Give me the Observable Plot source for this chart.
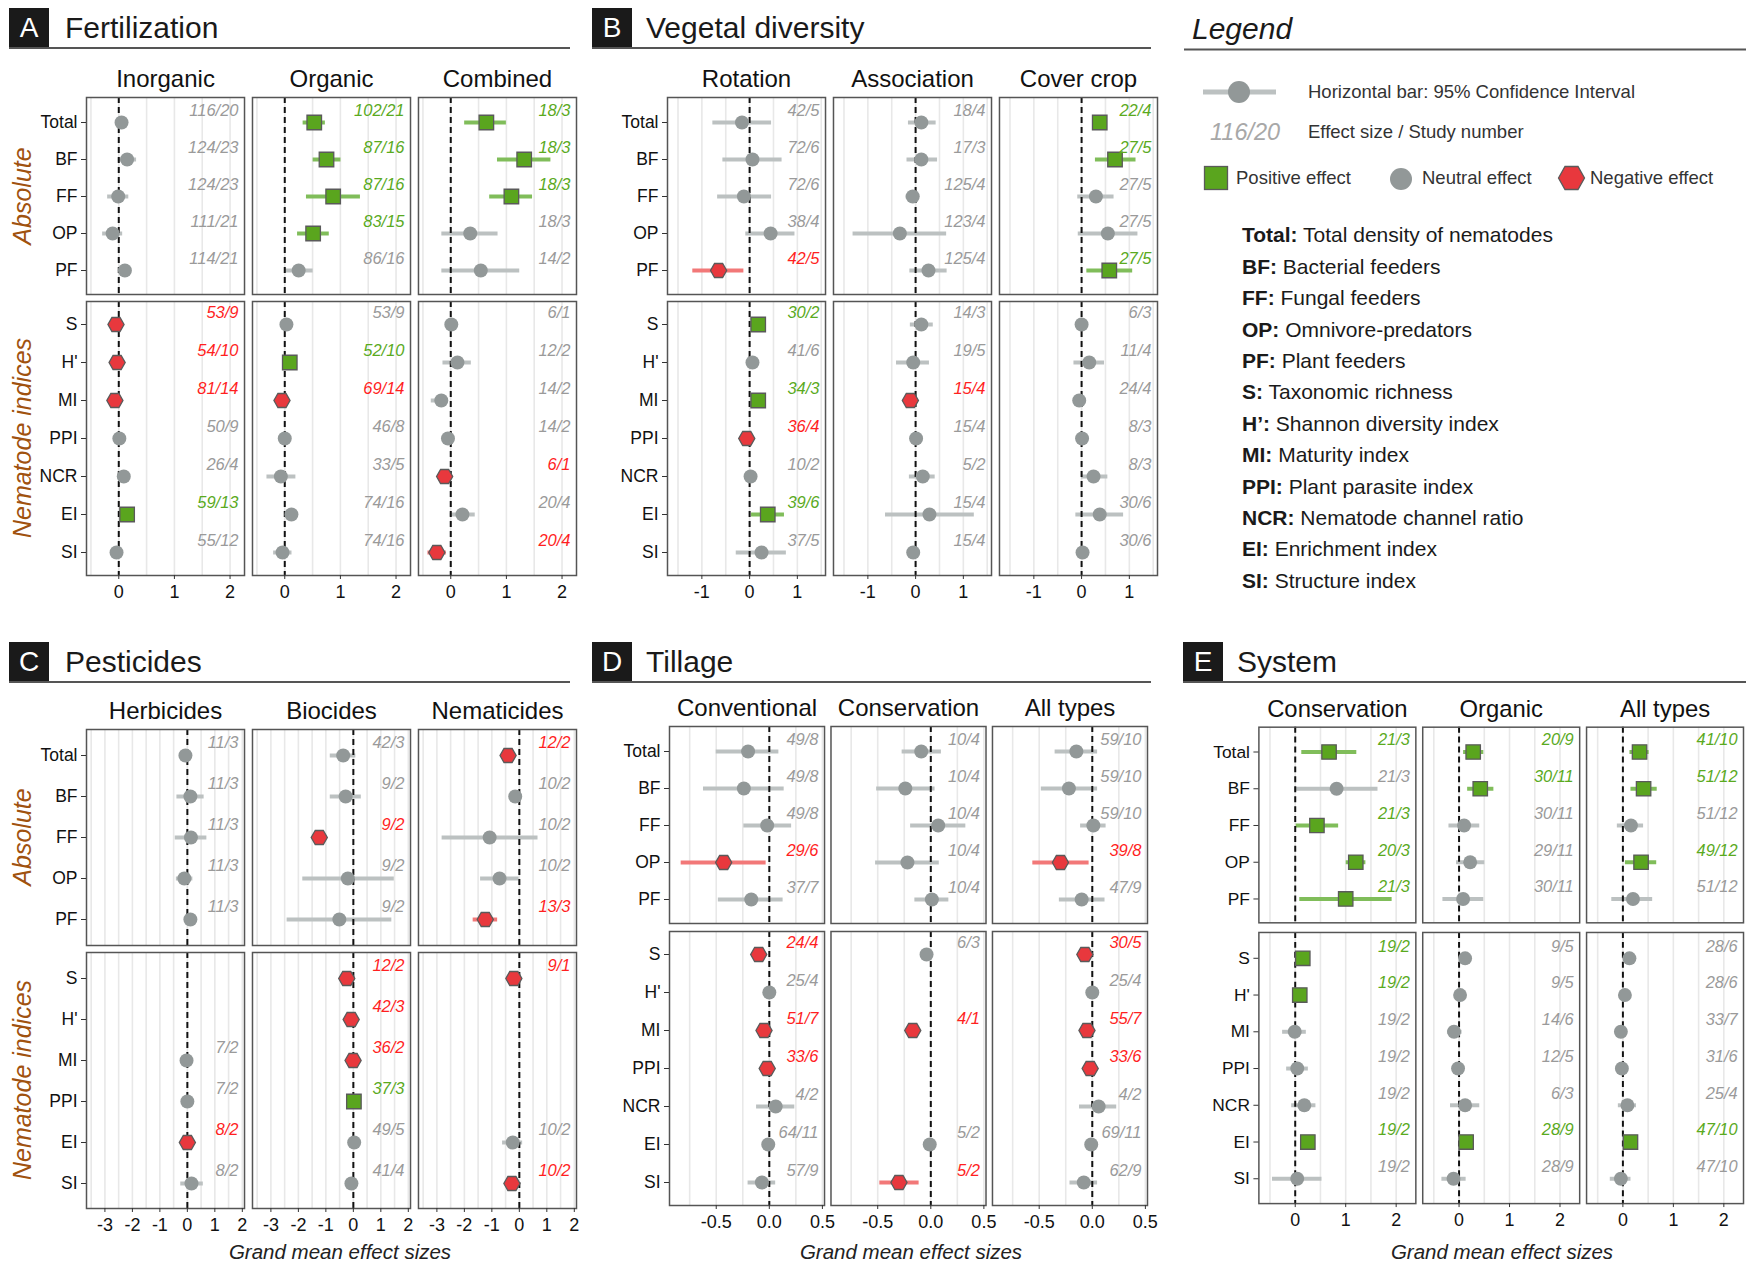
<!DOCTYPE html>
<html><head><meta charset="utf-8">
<script src="https://cdn.jsdelivr.net/npm/d3@7"></script>
<script src="https://cdn.jsdelivr.net/npm/@observablehq/plot@0.6"></script>
<style>
html,body{margin:0;padding:0;background:#fff;overflow:hidden;}
body{width:1746px;height:1263px;position:relative;font-family:"Liberation Sans",Arial,sans-serif;}
.box{position:absolute;width:40px;height:40px;background:#1a1a1a;color:#fff;font-size:28px;line-height:40px;text-align:center;}
.title{position:absolute;font-size:30px;color:#1a1a1a;line-height:30px;white-space:nowrap;}
.uline{position:absolute;height:2px;background:#555;}
.grp{position:absolute;font-style:italic;font-size:25px;color:#a0520f;white-space:nowrap;transform:translate(-50%,-50%) rotate(-90deg);}
.xlab{position:absolute;font-style:italic;font-size:20.5px;color:#222;transform:translate(-50%,-50%);white-space:nowrap;}
.pl{position:absolute;}
</style></head><body>
<script>
// ---------------- DATA ----------------
const topVars = ["Total", "BF", "FF", "OP", "PF"];
const idxVars = ["S", "H'", "MI", "PPI", "NCR", "EI", "SI"];
const idxVarsPest = ["S", "H'", "MI", "PPI", "EI", "SI"];

// [variable, estimate, CI low, CI high, "effect sizes/studies", effect (1 positive, 0 neutral, -1 negative)]
const fertInorganic = [
  ["Total", 0.05, -0.03, 0.12, "116/20", 0], ["BF", 0.15, -0.01, 0.32, "124/23", 0],
  ["FF", -0.01, -0.2, 0.18, "124/23", 0], ["OP", -0.11, -0.29, 0.07, "111/21", 0],
  ["PF", 0.11, 0.02, 0.2, "114/21", 0],
  ["S", -0.05, -0.12, 0.02, "53/9", -1], ["H'", -0.03, -0.1, 0.04, "54/10", -1],
  ["MI", -0.07, -0.14, 0.0, "81/14", -1], ["PPI", 0.01, -0.05, 0.07, "50/9", 0],
  ["NCR", 0.09, 0.0, 0.18, "26/4", 0], ["EI", 0.15, 0.08, 0.22, "59/13", 1],
  ["SI", -0.04, -0.12, 0.04, "55/12", 0]
];
const fertOrganic = [
  ["Total", 0.53, 0.33, 0.73, "102/21", 1], ["BF", 0.75, 0.51, 1.01, "87/16", 1],
  ["FF", 0.87, 0.39, 1.36, "87/16", 1], ["OP", 0.51, 0.23, 0.8, "83/15", 1],
  ["PF", 0.25, 0.01, 0.51, "86/16", 0],
  ["S", 0.03, -0.04, 0.1, "53/9", 0], ["H'", 0.09, 0.02, 0.16, "52/10", 1],
  ["MI", -0.05, -0.12, 0.02, "69/14", -1], ["PPI", 0.0, -0.07, 0.07, "46/8", 0],
  ["NCR", -0.07, -0.32, 0.2, "33/5", 0], ["EI", 0.12, 0.04, 0.2, "74/16", 0],
  ["SI", -0.04, -0.2, 0.13, "74/16", 0]
];
const fertCombined = [
  ["Total", 0.64, 0.25, 1.0, "18/3", 1], ["BF", 1.32, 0.84, 1.8, "18/3", 1],
  ["FF", 1.09, 0.7, 1.47, "18/3", 1], ["OP", 0.35, -0.16, 0.85, "18/3", 0],
  ["PF", 0.54, -0.16, 1.24, "14/2", 0],
  ["S", 0.01, -0.06, 0.08, "6/1", 0], ["H'", 0.12, -0.14, 0.37, "12/2", 0],
  ["MI", -0.17, -0.35, -0.05, "14/2", 0], ["PPI", -0.05, -0.12, 0.02, "14/2", 0],
  ["NCR", -0.11, -0.18, -0.04, "6/1", -1], ["EI", 0.21, -0.01, 0.44, "20/4", 0],
  ["SI", -0.25, -0.41, -0.08, "20/4", -1]
];
const vegRotation = [
  ["Total", -0.16, -0.77, 0.46, "42/5", 0], ["BF", 0.06, -0.56, 0.68, "72/6", 0],
  ["FF", -0.12, -0.67, 0.46, "72/6", 0], ["OP", 0.44, -0.08, 0.95, "38/4", 0],
  ["PF", -0.65, -1.19, -0.12, "42/5", -1],
  ["S", 0.18, 0.1, 0.26, "30/2", 1], ["H'", 0.06, -0.02, 0.14, "41/6", 0],
  ["MI", 0.18, 0.1, 0.26, "34/3", 1], ["PPI", -0.06, -0.14, 0.02, "36/4", -1],
  ["NCR", 0.02, -0.06, 0.1, "10/2", 0], ["EI", 0.38, 0.04, 0.73, "39/6", 1],
  ["SI", 0.25, -0.28, 0.77, "37/5", 0]
];
const vegAssociation = [
  ["Total", 0.12, -0.15, 0.43, "18/4", 0], ["BF", 0.12, -0.18, 0.46, "17/3", 0],
  ["FF", -0.06, -0.2, 0.08, "125/4", 0], ["OP", -0.33, -1.31, 0.65, "123/4", 0],
  ["PF", 0.27, -0.12, 0.66, "125/4", 0],
  ["S", 0.12, -0.11, 0.37, "14/3", 0], ["H'", -0.05, -0.4, 0.29, "19/5", 0],
  ["MI", -0.11, -0.19, -0.03, "15/4", -1], ["PPI", 0.01, -0.07, 0.09, "15/4", 0],
  ["NCR", 0.15, -0.13, 0.41, "5/2", 0], ["EI", 0.29, -0.63, 1.23, "15/4", 0],
  ["SI", -0.05, -0.13, 0.03, "15/4", 0]
];
const vegCover = [
  ["Total", 0.38, 0.3, 0.46, "22/4", 1], ["BF", 0.7, 0.29, 1.14, "27/5", 1],
  ["FF", 0.3, -0.08, 0.68, "27/5", 0], ["OP", 0.55, -0.07, 1.18, "27/5", 0],
  ["PF", 0.58, 0.11, 1.07, "27/5", 1],
  ["S", 0.0, -0.08, 0.08, "6/3", 0], ["H'", 0.16, -0.16, 0.48, "11/4", 0],
  ["MI", -0.05, -0.13, 0.03, "24/4", 0], ["PPI", 0.01, -0.07, 0.09, "8/3", 0],
  ["NCR", 0.25, 0.0, 0.55, "8/3", 0], ["EI", 0.38, -0.12, 0.88, "30/6", 0],
  ["SI", 0.02, -0.06, 0.1, "30/6", 0]
];
const pestHerbicides = [
  ["Total", -0.07, -0.27, 0.13, "11/3", 0], ["BF", 0.11, -0.38, 0.61, "11/3", 0],
  ["FF", 0.13, -0.44, 0.71, "11/3", 0], ["OP", -0.11, -0.4, 0.2, "11/3", 0],
  ["PF", 0.11, -0.09, 0.31, "11/3", 0],
  ["MI", -0.03, -0.23, 0.17, "7/2", 0], ["PPI", 0.0, -0.2, 0.2, "7/2", 0],
  ["EI", 0.0, -0.2, 0.2, "8/2", -1], ["SI", 0.15, -0.24, 0.58, "8/2", 0]
];
const pestBiocides = [
  ["Total", -0.37, -0.84, 0.09, "42/3", 0], ["BF", -0.28, -0.84, 0.29, "9/2", 0],
  ["FF", -1.24, -1.44, -1.04, "9/2", -1], ["OP", -0.2, -1.84, 1.49, "9/2", 0],
  ["PF", -0.51, -2.41, 1.4, "9/2", 0],
  ["S", -0.24, -0.44, -0.04, "12/2", -1], ["H'", -0.08, -0.28, 0.12, "42/3", -1],
  ["MI", -0.01, -0.21, 0.19, "36/2", -1], ["PPI", 0.02, -0.18, 0.22, "37/3", 1],
  ["EI", 0.03, -0.17, 0.23, "49/5", 0], ["SI", -0.07, -0.27, 0.13, "41/4", 0]
];
const pestNematicides = [
  ["Total", -0.41, -0.61, -0.21, "12/2", -1], ["BF", -0.15, -0.3, 0.0, "10/2", 0],
  ["FF", -1.08, -2.81, 0.68, "10/2", 0], ["OP", -0.72, -1.41, -0.01, "10/2", 0],
  ["PF", -1.24, -1.68, -0.79, "13/3", -1],
  ["S", -0.2, -0.4, 0.0, "9/1", -1], ["EI", -0.24, -0.61, 0.12, "10/2", 0],
  ["SI", -0.27, -0.47, -0.07, "10/2", -1]
];
const tillConventional = [
  ["Total", -0.2, -0.5, 0.09, "49/8", 0], ["BF", -0.24, -0.62, 0.14, "49/8", 0],
  ["FF", -0.02, -0.24, 0.21, "49/8", 0], ["OP", -0.43, -0.83, -0.03, "29/6", -1],
  ["PF", -0.17, -0.48, 0.13, "37/7", 0],
  ["S", -0.1, -0.15, -0.05, "24/4", -1], ["H'", 0.0, -0.05, 0.05, "25/4", 0],
  ["MI", -0.05, -0.1, 0.0, "51/7", -1], ["PPI", -0.02, -0.07, 0.03, "33/6", -1],
  ["NCR", 0.06, -0.12, 0.24, "4/2", 0], ["EI", -0.01, -0.06, 0.04, "64/11", 0],
  ["SI", -0.07, -0.2, 0.06, "57/9", 0]
];
const tillConservation = [
  ["Total", -0.09, -0.27, 0.1, "10/4", 0], ["BF", -0.24, -0.51, 0.04, "10/4", 0],
  ["FF", 0.07, -0.19, 0.33, "10/4", 0], ["OP", -0.22, -0.52, 0.08, "10/4", 0],
  ["PF", 0.01, -0.15, 0.17, "10/4", 0],
  ["S", -0.04, -0.09, 0.01, "6/3", 0], ["MI", -0.17, -0.22, -0.12, "4/1", -1],
  ["EI", -0.01, -0.06, 0.04, "5/2", 0], ["SI", -0.3, -0.48, -0.11, "5/2", -1]
];
const tillAll = [
  ["Total", -0.15, -0.35, 0.05, "59/10", 0], ["BF", -0.22, -0.48, 0.05, "59/10", 0],
  ["FF", 0.01, -0.11, 0.13, "59/10", 0], ["OP", -0.3, -0.56, -0.03, "39/8", -1],
  ["PF", -0.1, -0.31, 0.12, "47/9", 0],
  ["S", -0.07, -0.12, -0.02, "30/5", -1], ["H'", 0.0, -0.05, 0.05, "25/4", 0],
  ["MI", -0.05, -0.1, 0.0, "55/7", -1], ["PPI", -0.02, -0.07, 0.03, "33/6", -1],
  ["NCR", 0.06, -0.12, 0.23, "4/2", 0], ["EI", -0.01, -0.06, 0.04, "69/11", 0],
  ["SI", -0.08, -0.21, 0.05, "62/9", 0]
];
const sysConservation = [
  ["Total", 0.67, 0.13, 1.22, "21/3", 1], ["BF", 0.82, -0.01, 1.64, "21/3", 0],
  ["FF", 0.43, 0.02, 0.86, "21/3", 1], ["OP", 1.2, 1.01, 1.4, "20/3", 1],
  ["PF", 1.0, 0.09, 1.92, "21/3", 1],
  ["S", 0.15, 0.07, 0.23, "19/2", 1], ["H'", 0.09, 0.01, 0.17, "19/2", 1],
  ["MI", -0.01, -0.25, 0.22, "19/2", 0], ["PPI", 0.04, -0.17, 0.26, "19/2", 0],
  ["NCR", 0.18, -0.07, 0.41, "19/2", 0], ["EI", 0.25, 0.17, 0.33, "19/2", 1],
  ["SI", 0.04, -0.45, 0.53, "19/2", 0]
];
const sysOrganic = [
  ["Total", 0.28, 0.09, 0.49, "20/9", 1], ["BF", 0.42, 0.17, 0.69, "30/11", 1],
  ["FF", 0.1, -0.2, 0.41, "30/11", 0], ["OP", 0.22, -0.05, 0.51, "29/11", 0],
  ["PF", 0.08, -0.32, 0.49, "30/11", 0],
  ["S", 0.12, 0.04, 0.2, "9/5", 0], ["H'", 0.02, -0.06, 0.1, "9/5", 0],
  ["MI", -0.1, -0.23, 0.06, "14/6", 0], ["PPI", -0.02, -0.1, 0.06, "12/5", 0],
  ["NCR", 0.12, -0.17, 0.41, "6/3", 0], ["EI", 0.14, 0.06, 0.22, "28/9", 1],
  ["SI", -0.11, -0.34, 0.14, "28/9", 0]
];
const sysAll = [
  ["Total", 0.33, 0.14, 0.52, "41/10", 1], ["BF", 0.41, 0.16, 0.68, "51/12", 1],
  ["FF", 0.16, -0.11, 0.41, "51/12", 0], ["OP", 0.36, 0.05, 0.67, "49/12", 1],
  ["PF", 0.2, -0.22, 0.59, "51/12", 0],
  ["S", 0.13, 0.05, 0.21, "28/6", 0], ["H'", 0.04, -0.04, 0.12, "28/6", 0],
  ["MI", -0.04, -0.12, 0.04, "33/7", 0], ["PPI", -0.02, -0.1, 0.06, "31/6", 0],
  ["NCR", 0.09, -0.09, 0.27, "25/4", 0], ["EI", 0.15, 0.07, 0.23, "47/10", 1],
  ["SI", -0.04, -0.25, 0.16, "47/10", 0]
];

// ---------------- STYLE / LAYOUT ----------------
const barColor = {"1": "#80bd5a", "0": "#bcc1c1", "-1": "#f27878"};
const ptColor = {"1": "#5aa51e", "0": "#929898", "-1": "#e8383d"};
const labColor = {"1": "#5aaa1e", "0": "#9a9a9a", "-1": "#ff1f1f"};
const FONT = '"Liberation Sans", Arial, sans-serif';

const panels = [
  {letter: "A", title: "Fertilization", cols: ["Inorganic", "Organic", "Combined"],
   sets: [fertInorganic, fertOrganic, fertCombined], idx: idxVars,
   xDomain: [-0.58, 2.26], xTicks: [0, 1, 2], grid: [-0.5, 0, 0.5, 1, 1.5, 2], fmt: d => String(d),
   left: 0, width: 580, mL: 86, mR: 4, pad: 0.048, topFrame: [97, 294], botFrame: [301, 575],
   hdr: {boxX: 9, boxY: 8, titleX: 65, lineEnd: 570}, groups: true, xlab: null},
  {letter: "B", title: "Vegetal diversity", cols: ["Rotation", "Association", "Cover crop"],
   sets: [vegRotation, vegAssociation, vegCover], idx: idxVars,
   xDomain: [-1.72, 1.59], xTicks: [-1, 0, 1], grid: [-1.5, -1, -0.5, 0, 0.5, 1, 1.5], fmt: d => String(d),
   left: 585, width: 580, mL: 82, mR: 8, pad: 0.048, topFrame: [97, 294], botFrame: [301, 575],
   hdr: {boxX: 592, boxY: 8, titleX: 646, lineEnd: 1151}, groups: false, xlab: null},
  {letter: "C", title: "Pesticides", cols: ["Herbicides", "Biocides", "Nematicides"],
   sets: [pestHerbicides, pestBiocides, pestNematicides], idx: idxVarsPest,
   xDomain: [-3.67, 2.08], xTicks: [-3, -2, -1, 0, 1, 2], grid: d3.range(-3.5, 2.01, 0.5), fmt: d => String(d),
   left: 0, width: 580, mL: 86, mR: 4, pad: 0.048, topFrame: [729, 945], botFrame: [952, 1208],
   hdr: {boxX: 9, boxY: 642, titleX: 65, lineEnd: 570}, groups: true, xlab: 340},
  {letter: "D", title: "Tillage", cols: ["Conventional", "Conservation", "All types"],
   sets: [tillConventional, tillConservation, tillAll], idx: idxVars,
   xDomain: [-0.94, 0.52], xTicks: [-0.5, 0, 0.5], grid: [-0.75, -0.5, -0.25, 0, 0.25, 0.5], fmt: d => d.toFixed(1),
   left: 585, width: 580, mL: 84, mR: 18, pad: 0.04, topFrame: [726, 923], botFrame: [931, 1205],
   hdr: {boxX: 592, boxY: 642, titleX: 646, lineEnd: 1151}, groups: false, xlab: 911},
  {letter: "E", title: "System", cols: ["Conservation", "Organic", "All types"],
   sets: [sysConservation, sysOrganic, sysAll], idx: idxVars,
   xDomain: [-0.72, 2.39], xTicks: [0, 1, 2], grid: [-0.5, 0, 0.5, 1, 1.5, 2], fmt: d => String(d),
   left: 1170, width: 580, mL: 89, mR: 3, pad: 0.042, topFrame: [727, 924], botFrame: [932, 1205],
   hdr: {boxX: 1183, boxY: 642, titleX: 1237, lineEnd: 1746}, groups: false, xlab: 1502}
];

function rowsOf(p) {
  const out = [];
  p.cols.forEach((c, i) => p.sets[i].forEach(([v, est, lo, hi, lab, eff]) =>
    out.push({col: c, v, est, lo, hi, lab, eff})));
  return out;
}

function add(html) { document.body.insertAdjacentHTML("beforeend", html); }

function makePlot(p, rows, isTop) {
  const [ft, fb] = isTop ? p.topFrame : p.botFrame;
  const svgTop = isTop ? ft - 45 : ft - 3;
  const mT = ft - svgTop;
  const mB = isTop ? 3 : 32;
  const height = fb - svgTop + mB;
  const yDom = isTop ? topVars : p.idx;
  const data = rows.filter(d => yDom.includes(d.v));
  const step = (fb - ft) / (yDom.length - 1 + 1.2);
  const labDy = -Math.round(step * 0.32);
  const marks = [
    Plot.ruleX(p.grid, {stroke: "#e8e8e8", strokeWidth: 1.6}),
    Plot.ruleY(data, {fx: "col", y: "v", x1: "lo", x2: "hi", stroke: d => barColor[d.eff], strokeWidth: 4}),
    Plot.ruleX([0], {stroke: "#111", strokeWidth: 2, strokeDasharray: "6,4"}),
    Plot.dot(data.filter(d => d.eff === 0), {fx: "col", x: "est", y: "v", r: 7, symbol: "circle", fill: ptColor["0"]}),
    Plot.dot(data.filter(d => d.eff === 1), {fx: "col", x: "est", y: "v", r: 8.2, symbol: "square", fill: ptColor["1"], stroke: "#5a5a5a", strokeWidth: 1.3}),
    Plot.dot(data.filter(d => d.eff === -1), {fx: "col", x: "est", y: "v", r: 7, symbol: "hexagon", rotate: 90, fill: ptColor["-1"], stroke: "#5a5a5a", strokeWidth: 1.3}),
    Plot.text(data, {fx: "col", y: "v", text: "lab", frameAnchor: "right", lineAnchor: "middle", textAnchor: "end", dx: -6, dy: labDy,
      fill: d => labColor[d.eff], fontSize: 16.5, fontStyle: "italic"}),
    Plot.frame({stroke: "#555", strokeWidth: 1.5}),
    Plot.axisY({tickSize: 5, tickPadding: 4, fontSize: 17.5, label: null, stroke: "#333", fill: "#111"})
  ];
  if (isTop) {
    marks.push(Plot.text(p.cols, {fx: d => d, text: d => d, frameAnchor: "top", lineAnchor: "middle", dy: -18, fontSize: 24, fill: "#111"}));
  } else {
    marks.push(Plot.axisX({ticks: p.xTicks, tickFormat: p.fmt, tickSize: 4, tickPadding: 6, fontSize: 18, label: null, stroke: "#333", fill: "#111"}));
  }
  const svg = Plot.plot({
    width: p.width, height,
    marginLeft: p.mL, marginRight: p.mR, marginTop: mT, marginBottom: mB,
    x: {domain: p.xDomain, axis: isTop ? null : undefined},
    y: {type: "point", domain: yDom, padding: 0.6},
    fx: {domain: p.cols, paddingInner: p.pad, paddingOuter: 0, axis: null, round: false},
    style: {fontFamily: FONT, fontSize: "17px", color: "#111", background: "none", overflow: "visible"},
    marks
  });
  const div = document.createElement("div");
  div.className = "pl";
  div.style.left = p.left + "px";
  div.style.top = svgTop + "px";
  div.appendChild(svg);
  document.body.appendChild(div);
}

for (const p of panels) {
  const rows = rowsOf(p);
  const h = p.hdr;
  add(`<div class="box" style="left:${h.boxX}px;top:${h.boxY}px">${p.letter}</div>`);
  add(`<div class="title" style="left:${h.titleX}px;top:${h.boxY + 5}px">${p.title}</div>`);
  add(`<div class="uline" style="left:${h.boxX}px;top:${h.boxY + 39}px;width:${h.lineEnd - h.boxX}px"></div>`);
  makePlot(p, rows, true);
  makePlot(p, rows, false);
  if (p.groups) {
    const cx = 22;
    add(`<div class="grp" style="left:${cx}px;top:${(p.topFrame[0] + p.topFrame[1]) / 2}px">Absolute</div>`);
    add(`<div class="grp" style="left:${cx}px;top:${(p.botFrame[0] + p.botFrame[1]) / 2}px">Nematode indices</div>`);
  }
  if (p.xlab) add(`<div class="xlab" style="left:${p.xlab}px;top:1252px">Grand mean effect sizes</div>`);
}

// ---------------- LEGEND ----------------
const abbrevKeys = ["Total:", "BF:", "FF:", "OP:", "PF:", "S:", "H’:", "MI:", "PPI:", "NCR:", "EI:", "SI:"];
const abbrevText = ["Total density of nematodes", "Bacterial feeders", "Fungal feeders", "Omnivore-predators",
  "Plant feeders", "Taxonomic richness", "Shannon diversity index", "Maturity index", "Plant parasite index",
  "Nematode channel ratio", "Enrichment index", "Structure index"];

let lg = `<svg class="pl" style="left:1170px;top:0px;font-family:${FONT.replace(/"/g, "'")}" width="576" height="600">`;
lg += `<text x="22" y="39" font-size="30" font-style="italic" fill="#1a1a1a">Legend</text>`;
lg += `<line x1="14" x2="576" y1="49.5" y2="49.5" stroke="#555" stroke-width="2"/>`;
lg += `<line x1="33" x2="106" y1="92" y2="92" stroke="${barColor["0"]}" stroke-width="5"/>`;
lg += `<circle cx="69" cy="92" r="11" fill="${ptColor["0"]}"/>`;
lg += `<text x="138" y="92" dy="0.35em" font-size="18.5" fill="#333">Horizontal bar: 95% Confidence Interval</text>`;
lg += `<text x="40" y="132" dy="0.35em" font-size="23.5" font-style="italic" fill="#a8a8a8">116/20</text>`;
lg += `<text x="138" y="132" dy="0.35em" font-size="18.5" fill="#333">Effect size / Study number</text>`;
lg += `<rect x="34.5" y="166.5" width="23" height="23" fill="${ptColor["1"]}" stroke="#5a5a5a" stroke-width="1.3"/>`;
lg += `<text x="66" y="178" dy="0.35em" font-size="18.5" fill="#333">Positive effect</text>`;
lg += `<circle cx="231" cy="179" r="11" fill="${ptColor["0"]}"/>`;
lg += `<text x="252" y="178" dy="0.35em" font-size="18.5" fill="#333">Neutral effect</text>`;
lg += `<polygon points="388.5,178 395,166.5 408,166.5 414.5,178 408,189.5 395,189.5" fill="${ptColor["-1"]}" stroke="#5a5a5a" stroke-width="1.3"/>`;
lg += `<text x="420" y="178" dy="0.35em" font-size="18.5" fill="#333">Negative effect</text>`;
abbrevKeys.forEach((k, i) => {
  const y = 235 + i * 31.4;
  lg += `<text x="72" y="${y}" dy="0.35em" font-size="21" fill="#1a1a1a"><tspan font-weight="bold">${k}</tspan> ${abbrevText[i]}</text>`;
});
lg += `</svg>`;
add(lg);
</script>
</body></html>
